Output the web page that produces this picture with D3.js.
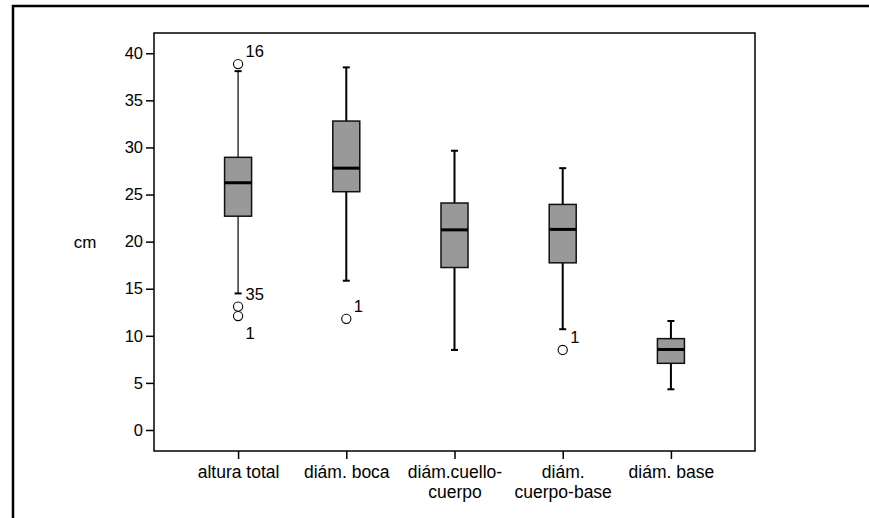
<!DOCTYPE html>
<html>
<head>
<meta charset="utf-8">
<script src="https://cdn.jsdelivr.net/npm/d3@7"></script>
<style>
  body { margin: 0; background: #fff; }
  text { font-family: "Liberation Sans", Arial, sans-serif; fill: #000; }
</style>
</head>
<body>
<script>

    // categories (line breaks as in the original axis labels)
    var categories = ["altura total", "diám. boca", "diám.cuello-\ncuerpo", "diám.\ncuerpo-base", "diám. base"];

    // five-number summaries (cm)
    var whiskerLow  = [14.5, 15.85, 8.5, 10.7, 4.32];
    var q1          = [22.7, 25.3, 17.25, 17.75, 7.08];
    var medians     = [26.25, 27.8, 21.25, 21.3, 8.55];
    var q3          = [28.95, 32.8, 24.1, 23.95, 9.7];
    var whiskerHigh = [38.1, 38.5, 29.65, 27.8, 11.57];

    // outliers: category index, value, case label
    var outlierCat   = [0, 0, 0, 1, 3];
    var outlierValue = [38.85, 13.1, 12.1, 11.8, 8.5];
    var outlierLabel = ["16", "35", "1", "1", "1"];

    var yTicks = [0, 5, 10, 15, 20, 25, 30, 35, 40];

    var W = 869, H = 518;
    var margin = {top: 33, right: 114, bottom: 67, left: 154};
    var width = W - margin.left - margin.right,
        height = H - margin.top - margin.bottom;

    var svg = d3.select("body")
    .append("svg")
    .attr("width", W)
    .attr("height", H);

    // outer frame (top and left edges only show)
    svg.append("path")
    .attr("d", "M13," + H + "V6H" + W)
    .attr("fill", "none")
    .attr("stroke", "#000")
    .attr("stroke-width", 2.5);

    var g = svg.append("g")
    .attr("transform", "translate(" + margin.left + "," + margin.top + ")");

    var x = d3.scalePoint()
    .domain(categories)
    .range([0, width])
    .padding(0.777);

    var y = d3.scaleLinear()
    .domain([-2.23, 42.15])
    .range([height, 0]);

    // axes
    var yAxis = d3.axisLeft(y)
    .tickValues(yTicks)
    .tickSize(8)
    .tickPadding(3)
    .tickFormat(function(d) { return d; });

    var xAxis = d3.axisBottom(x)
    .tickSize(8)
    .tickFormat("");

    var gy = g.append("g").call(yAxis);
    gy.select(".domain").remove();
    gy.selectAll("line").attr("stroke", "#000").attr("stroke-width", 1.5);
    gy.selectAll("text").style("font-size", "16.5px").attr("fill", "#000");

    var gx = g.append("g")
    .attr("transform", "translate(0," + height + ")")
    .call(xAxis);
    gx.select(".domain").remove();
    gx.selectAll("line").attr("stroke", "#000").attr("stroke-width", 1.5);

    // category labels, split on line breaks
    gx.selectAll(".tick").each(function(d) {
        var t = d3.select(this).append("text")
        .attr("y", 27)
        .attr("text-anchor", "middle")
        .style("font-size", "17.5px");
        d.split("\n").forEach(function(line, i) {
            t.append("tspan")
            .attr("x", 0)
            .attr("dy", i === 0 ? 0 : 20)
            .text(line);
        });
    });

    // y axis title
    svg.append("text")
    .attr("x", 85)
    .attr("y", margin.top + y(20) + 6)
    .attr("text-anchor", "middle")
    .style("font-size", "17px")
    .text("cm");

    // plot frame
    g.append("rect")
    .attr("width", width)
    .attr("height", height)
    .attr("fill", "none")
    .attr("stroke", "#000")
    .attr("stroke-width", 1.5);

    // boxes
    var boxW = 27, capW = 7;
    var boxes = g.selectAll("g.box")
    .data(categories)
    .enter().append("g")
    .attr("class", "box")
    .attr("transform", function(d) { return "translate(" + x(d) + ",0)"; });

    boxes.each(function(d, i) {
        var b = d3.select(this);
        var sw = i === 0 ? 1.2 : 2;
        b.append("line")
        .attr("y1", y(whiskerHigh[i])).attr("y2", y(q3[i]))
        .attr("stroke", "#000").attr("stroke-width", sw);
        b.append("line")
        .attr("y1", y(q1[i])).attr("y2", y(whiskerLow[i]))
        .attr("stroke", "#000").attr("stroke-width", sw);
        [whiskerHigh[i], whiskerLow[i]].forEach(function(v) {
            b.append("line")
            .attr("x1", -capW / 2).attr("x2", capW / 2)
            .attr("y1", y(v)).attr("y2", y(v))
            .attr("stroke", "#000").attr("stroke-width", 2);
        });
        b.append("rect")
        .attr("x", -boxW / 2)
        .attr("y", y(q3[i]))
        .attr("width", boxW)
        .attr("height", y(q1[i]) - y(q3[i]))
        .attr("fill", "#999999")
        .attr("stroke", "#111")
        .attr("stroke-width", 1.5);
        b.append("line")
        .attr("x1", -boxW / 2).attr("x2", boxW / 2)
        .attr("y1", y(medians[i])).attr("y2", y(medians[i]))
        .attr("stroke", "#000").attr("stroke-width", 3);
    });

    // outliers with case labels; a label goes below when the circle sits right under another
    outlierValue.forEach(function(v, k) {
        var cx = x(categories[outlierCat[k]]), cy = y(v);
        g.append("circle")
        .attr("cx", cx).attr("cy", cy).attr("r", 4.6)
        .attr("fill", "#fff")
        .attr("stroke", "#000")
        .attr("stroke-width", 1.1);

        var crowded = k > 0 && outlierCat[k - 1] === outlierCat[k] &&
            Math.abs(y(outlierValue[k - 1]) - cy) < 14;
        g.append("text")
        .attr("x", cx + 7.5)
        .attr("y", crowded ? cy + 22.5 : cy - 7)
        .style("font-size", "16.5px")
        .text(outlierLabel[k]);
    });

    </script>
</body>
</html>
